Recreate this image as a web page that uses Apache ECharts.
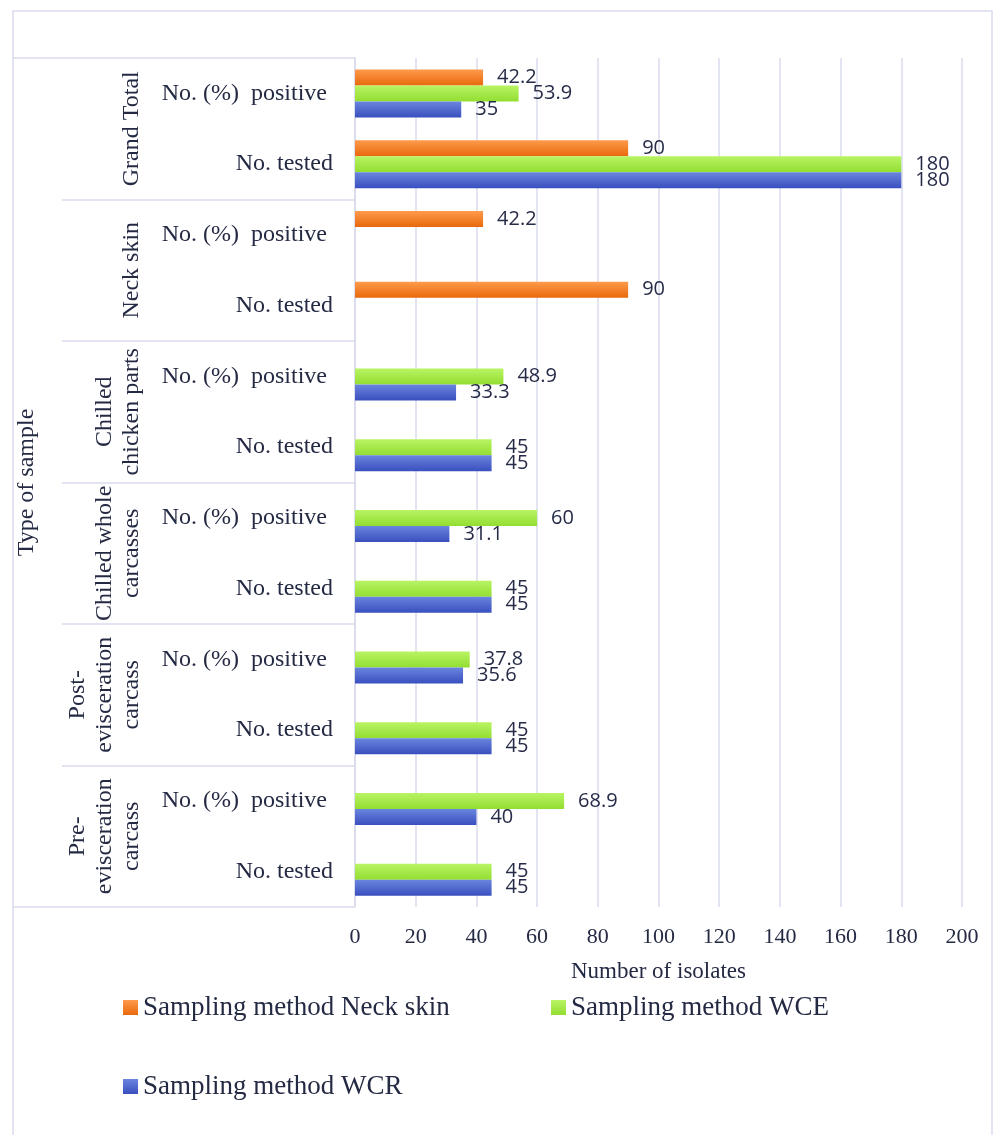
<!DOCTYPE html>
<html>
<head>
<meta charset="utf-8">
<script src="https://cdn.jsdelivr.net/npm/echarts@6/dist/echarts.min.js"></script>
<style>html,body{margin:0;padding:0;background:#fff}</style>
</head>
<body>
<div id="chart" style="width: 995px; height: 1135px"></div>
<script>
// rows listed top to bottom
var rowLabels = [
  'No. (%)  positive ', 'No. tested',
  'No. (%)  positive ', 'No. tested',
  'No. (%)  positive ', 'No. tested',
  'No. (%)  positive ', 'No. tested',
  'No. (%)  positive ', 'No. tested',
  'No. (%)  positive ', 'No. tested'
]
var groupLabels = [
  'Grand Total',
  'Neck skin',
  'Chilled\nchicken parts',
  'Chilled whole\ncarcasses',
  'Post-\nevisceration\ncarcass',
  'Pre-\nevisceration\ncarcass'
]
var outerLabel = ['Type of sample']

var neckSkin = [42.2, 90, 42.2, 90, null, null, null, null, null, null, null, null]
var wce = [53.9, 180, null, null, 48.9, 45, 60, 45, 37.8, 45, 68.9, 45]
var wcr = [35, 180, null, null, 33.3, 45, 31.1, 45, 35.6, 45, 40, 45]

var seriesNames = ['Sampling method Neck skin', 'Sampling method WCE', 'Sampling method WCR']

var lineColor = '#d9dbee'
var textColor = '#252a44'
var serif = 'Liberation Serif'

function grad(top, bottom) {
  return {
    type: 'linear', x: 0, y: 0, x2: 0, y2: 1,
    colorStops: [{ offset: 0, color: top }, { offset: 1, color: bottom }]
  }
}

function barSeries(name, data, color) {
  return {
    name: name,
    type: 'bar',
    data: data,
    barWidth: 16,
    barGap: '0%',
    itemStyle: { color: color },
    label: {
      show: true,
      position: 'right',
      distance: 14,
      fontFamily: 'Open Sans',
      fontSize: 20,
      color: '#262b48'
    }
  }
}

function legendAt(name, left, top) {
  return {
    data: [name],
    left: left,
    top: top,
    padding: 0,
    icon: 'rect',
    itemWidth: 15,
    itemHeight: 15,
    itemGap: 6,
    textStyle: { fontFamily: serif, fontSize: 27, color: textColor }
  }
}

const chart = echarts.init(document.getElementById('chart'))

let option = {
  animation: false,
  backgroundColor: '#fff',
  grid: { left: 355, right: 33, top: 58, bottom: 228, outerBoundsMode: 'none' },
  legend: [
    legendAt(seriesNames[0], 123, 994),
    legendAt(seriesNames[1], 551, 994),
    legendAt(seriesNames[2], 123, 1073)
  ],
  xAxis: {
    type: 'value',
    min: 0,
    max: 200,
    interval: 20,
    name: 'Number of isolates',
    nameLocation: 'middle',
    nameGap: 53,
    nameTextStyle: { fontFamily: serif, fontSize: 23, color: textColor },
    axisLine: { show: false },
    axisTick: { show: false },
    axisLabel: { margin: 19, fontFamily: serif, fontSize: 22, color: textColor },
    splitLine: { show: true, lineStyle: { color: lineColor, width: 1.5 } }
  },
  yAxis: [
    {
      type: 'category',
      position: 'left',
      inverse: true,
      data: rowLabels,
      axisLine: { show: true, lineStyle: { color: lineColor, width: 1.5 } },
      axisTick: { show: false },
      axisLabel: { interval: 0, margin: 22, fontFamily: serif, fontSize: 24, color: textColor }
    },
    {
      type: 'category',
      position: 'left',
      offset: 0,
      inverse: true,
      data: groupLabels,
      axisLine: { show: false },
      axisTick: { show: true, interval: 0, length: 293, lineStyle: { color: lineColor, width: 1.5 } },
      axisLabel: {
        interval: 0, rotate: 90, margin: 210, lineHeight: 27,
        fontFamily: serif, fontSize: 24, color: textColor
      }
    },
    {
      type: 'category',
      position: 'left',
      offset: 0,
      data: outerLabel,
      axisLine: { show: false },
      axisTick: { show: true, interval: 0, length: 342, lineStyle: { color: lineColor, width: 1.5 } },
      axisLabel: {
        interval: 0, rotate: 90, margin: 316,
        fontFamily: serif, fontSize: 24, color: textColor
      }
    }
  ],
  graphic: [
    {
      type: 'rect',
      silent: true,
      shape: { x: 13, y: 11, width: 979, height: 1140 },
      style: { fill: 'none', stroke: lineColor, lineWidth: 1.5 }
    }
  ],
  series: [
    barSeries(seriesNames[0], neckSkin, grad('#ff9b4c', '#e8690c')),
    barSeries(seriesNames[1], wce, grad('#b9f464', '#93de32')),
    barSeries(seriesNames[2], wcr, grad('#6a86de', '#3a4fbf'))
  ]
}

chart.setOption(option)
</script>
</body>
</html>
